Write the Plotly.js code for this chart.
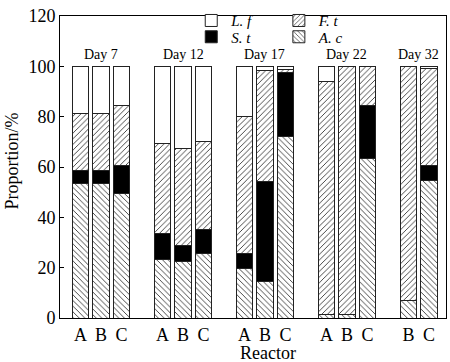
<!DOCTYPE html>
<html>
<head>
<meta charset="utf-8">
<script src="https://cdn.plot.ly/plotly-3.0.1.min.js"></script>
<style>html,body{margin:0;padding:0;background:#fff;}#chart{width:450px;height:362px;}</style>
</head>
<body>
<div id="chart"></div>
<script>
// ---- data ----
var days = ['Day 7', 'Day 12', 'Day 17', 'Day 22', 'Day 32'];
var barDay = ['Day 7','Day 7','Day 7','Day 12','Day 12','Day 12','Day 17','Day 17','Day 17','Day 22','Day 22','Day 22','Day 32','Day 32'];
var reactors = ['A','B','C','A','B','C','A','B','C','A','B','C','B','C'];
var Ac = [53.5, 53.5, 49.4, 23.4, 22.5, 25.5, 19.7, 14.6, 72.3, 1.2, 1.5, 63.2, 6.8, 54.7];
var St = [5.0, 5.3, 11.2, 10.2, 6.4, 9.5, 6.0, 39.6, 25.2, 0, 0, 21.1, 0, 5.9];
var Ft = [22.9, 22.6, 23.7, 35.9, 38.4, 35.3, 54.4, 44.2, 1.4, 92.6, 98.5, 15.7, 93.2, 38.7];
var Lf = [18.6, 18.6, 15.7, 30.5, 32.7, 29.7, 19.9, 1.6, 1.1, 6.2, 0, 0, 0, 0.7];
var speciesNames = ['A. c', 'S. t', 'F. t', 'L. f'];

// slot positions: bars sequential, one empty slot between day groups
var xpos = [];
var slot = 0;
for (var i = 0; i < barDay.length; i++) {
  if (i > 0 && barDay[i] !== barDay[i - 1]) slot += 2; else slot += 1;
  xpos.push(slot);
}
var dayCenters = days.map(function (d) {
  var xs = xpos.filter(function (x, k) { return barDay[k] === d; });
  return (Math.min.apply(null, xs) + Math.max.apply(null, xs)) / 2;
});

var font = "'Liberation Serif', 'Times New Roman', serif";
function tr(name, vals, color, shape, legend) {
  return {
    type: 'bar', name: name, x: xpos, y: vals, width: 0.8,
    legend: legend,
    marker: {
      color: color,
      line: {color: '#222', width: 1},
      pattern: shape ? {shape: shape, size: 4, solidity: 0.22, fgcolor: '#333', bgcolor: '#fff', fillmode: 'replace'} : undefined
    },
    hoverinfo: 'skip'
  };
}
var data = [
  tr(speciesNames[0], Ac, '#fff', '\\', 'legend4'),
  tr(speciesNames[1], St, '#000', '', 'legend3'),
  tr(speciesNames[2], Ft, '#fff', '/', 'legend2'),
  tr(speciesNames[3], Lf, '#fff', '', 'legend')
];

var annotations = days.map(function (d, k) {
  return {x: dayCenters[k], y: 100, xref: 'x', yref: 'y', yanchor: 'bottom', yshift: 2,
    text: d, showarrow: false, font: {family: font, size: 14, color: '#000'}};
});
annotations.push({x: 0.539, y: 0, xref: 'paper', yref: 'paper', yanchor: 'top', yshift: -23,
  text: 'Reactor', showarrow: false, font: {family: font, size: 18, color: '#000'}});
annotations.push({x: -0.155, y: 0.519, xref: 'paper', yref: 'paper', textangle: -90,
  text: 'Proportion/%', showarrow: false, font: {family: font, size: 18, color: '#000'}});

function leg(x, y) {
  return {
    x: x, y: y, yanchor: 'top', xanchor: 'left',
    bgcolor: 'rgba(0,0,0,0)', tracegroupgap: 0,
    font: {family: font, size: 15, style: 'italic', color: '#000'}
  };
}
var layout = {
  width: 450, height: 362,
  margin: {l: 60, r: 4, t: 6, b: 44},
  paper_bgcolor: '#fff', plot_bgcolor: '#fff',
  barmode: 'stack',
  showlegend: true,
  legend: leg(0.34, 1.039),
  legend3: leg(0.34, 0.985),
  legend2: leg(0.567, 1.039),
  legend4: leg(0.567, 0.985),
  xaxis: {
    range: [0, 18.83], tickvals: xpos, ticktext: reactors, ticks: '',
    showgrid: false, zeroline: false, showline: true, mirror: true,
    linecolor: '#000', linewidth: 1,
    tickfont: {family: font, size: 18, color: '#000'}
  },
  yaxis: {
    range: [0, 120], dtick: 20, ticks: 'inside', ticklen: 4, tickcolor: '#000',
    showgrid: false, zeroline: false, showline: true, mirror: true,
    linecolor: '#000', linewidth: 1,
    tickfont: {family: font, size: 18, color: '#000'}
  },
  annotations: annotations
};
Plotly.newPlot('chart', data, layout, {staticPlot: true});
</script>
</body>
</html>
